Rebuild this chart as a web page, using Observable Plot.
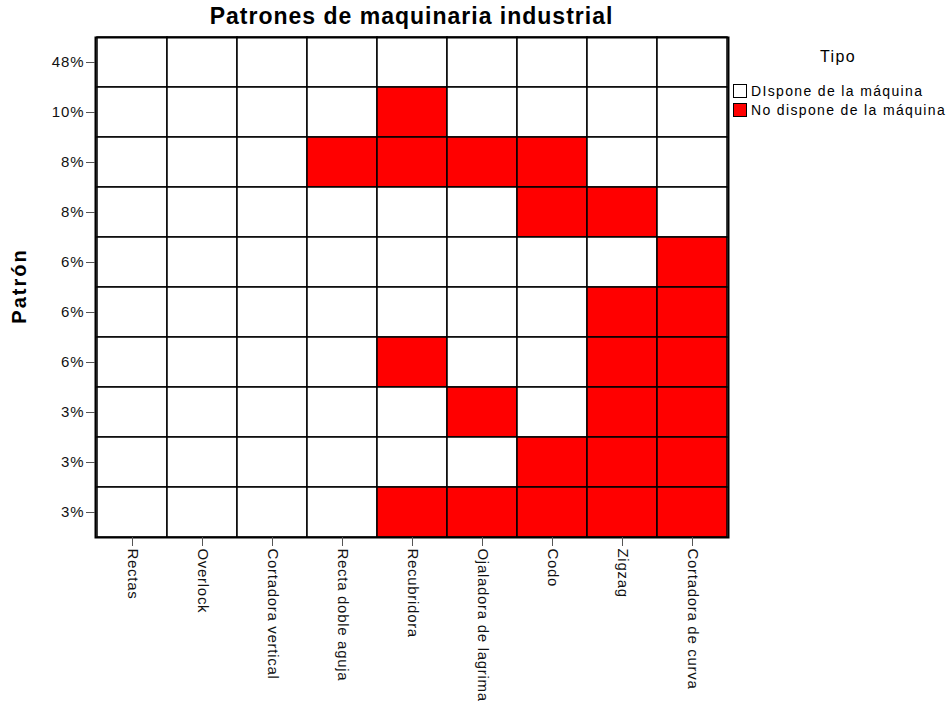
<!DOCTYPE html>
<html>
<head>
<meta charset="utf-8">
<script src="https://cdn.jsdelivr.net/npm/d3@7"></script>
<script src="https://cdn.jsdelivr.net/npm/@observablehq/plot@0.6"></script>
<style>
  html, body { margin: 0; padding: 0; background: #fff; }
  #wrap { position: relative; width: 949px; height: 701px; font-family: "Liberation Sans", Arial, sans-serif; color: #000; }
  #wrap svg text { font-size: 15px; letter-spacing: 0.9px; fill: #111; }
  #wrap svg g[aria-label="x-axis tick label"] text { letter-spacing: 0.7px; }
  #title { position: absolute; left: 95px; width: 633px; top: 3px; text-align: center; font-weight: bold; font-size: 23px; letter-spacing: 1px; }
  #ylab { position: absolute; left: 19px; top: 286px; transform: translate(-50%, -50%) rotate(-90deg); font-weight: bold; font-size: 20px; letter-spacing: 2px; white-space: nowrap; }
  #legend { position: absolute; left: 733px; top: 48px; font-size: 14px; letter-spacing: 1.35px; }
  #legend .ttl { font-size: 16px; position: absolute; left: 105px; top: 0px; transform: translateX(-50%); white-space: nowrap; }
  #legend .item { position: absolute; left: 0; white-space: nowrap; display: flex; align-items: center; }
  #legend .sw { width: 12px; height: 12px; border: 1px solid #000; margin-right: 4px; box-sizing: content-box; }
</style>
</head>
<body>
<div id="wrap">
  <div id="title"></div>
  <div id="ylab"></div>
  <div id="legend"></div>
</div>
<script>
const titleText = "Patrones de maquinaria industrial";
const yLabel = "Patrón";
const legendTitle = "Tipo";
const machines = ["Rectas", "Overlock", "Cortadora vertical", "Recta doble aguja", "Recubridora", "Ojaladora de lagrima", "Codo", "Zigzag", "Cortadora de curva"];
const patternLabels = ["48%", "10%", "8%", "8%", "6%", "6%", "6%", "3%", "3%", "3%"];
const statusNames = ["DIspone de la máquina", "No dispone de la máquina"];
const statusColors = ["#ffffff", "#ff0000"];
// machines missing (No dispone) per pattern row
const missingByPattern = [
  [],
  ["Recubridora"],
  ["Recta doble aguja", "Recubridora", "Ojaladora de lagrima", "Codo"],
  ["Codo", "Zigzag"],
  ["Cortadora de curva"],
  ["Zigzag", "Cortadora de curva"],
  ["Recubridora", "Zigzag", "Cortadora de curva"],
  ["Ojaladora de lagrima", "Zigzag", "Cortadora de curva"],
  ["Codo", "Zigzag", "Cortadora de curva"],
  ["Recubridora", "Ojaladora de lagrima", "Codo", "Zigzag", "Cortadora de curva"]
];

const cells = [];
patternLabels.forEach((p, i) => {
  machines.forEach(m => {
    cells.push({row: i, machine: m, status: missingByPattern[i].includes(m) ? statusNames[1] : statusNames[0]});
  });
});

const chart = Plot.plot({
  width: 949,
  height: 701,
  marginLeft: 95,
  marginRight: 221,
  marginTop: 37,
  marginBottom: 164,
  style: {fontFamily: "Liberation Sans, Arial, sans-serif", fontSize: "15px", color: "#000", background: "#fff"},
  x: {domain: machines, padding: 0, label: null},
  y: {domain: d3.range(patternLabels.length), padding: 0, label: null},
  color: {domain: statusNames, range: statusColors},
  marks: [
    Plot.cell(cells, {x: "machine", y: "row", fill: "status", stroke: "#000", strokeWidth: 1.5}),
    Plot.frame({stroke: "#000", strokeWidth: 2}),
    Plot.axisY({tickFormat: i => patternLabels[i], tickSize: 9, tickPadding: 2, stroke: "#555", label: null}),
    Plot.axisX({tickRotate: 90, tickSize: 9, tickPadding: 2, stroke: "#555", label: null})
  ]
});
document.getElementById("wrap").prepend(chart);
chart.style.position = "absolute";
chart.style.left = "0";
chart.style.top = "0";

document.getElementById("title").textContent = titleText;
document.getElementById("ylab").textContent = yLabel;
const lg = document.getElementById("legend");
const t = document.createElement("div");
t.className = "ttl"; t.textContent = legendTitle; lg.appendChild(t);
statusNames.forEach((s, i) => {
  const it = document.createElement("div");
  it.className = "item";
  it.style.top = (35 + i * 19) + "px";
  const sw = document.createElement("span");
  sw.className = "sw"; sw.style.background = statusColors[i];
  it.appendChild(sw);
  const tx = document.createElement("span");
  tx.textContent = s;
  it.appendChild(tx);
  lg.appendChild(it);
});
</script>
</body>
</html>
